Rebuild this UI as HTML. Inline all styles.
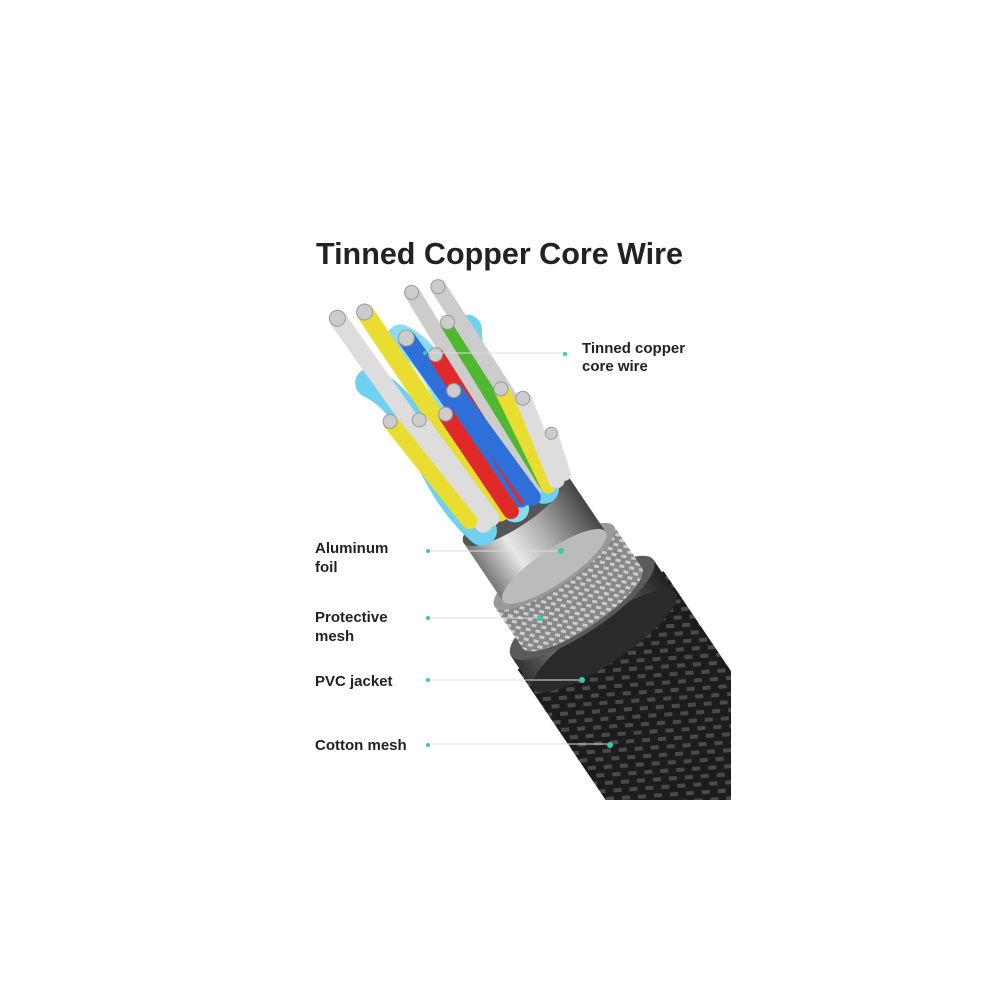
<!DOCTYPE html>
<html><head><meta charset="utf-8"><style>
html,body{margin:0;padding:0;background:#fff;}
svg{display:block}
text{font-family:"Liberation Sans",sans-serif;font-weight:bold;fill:#222}
</style></head><body>
<svg width="1000" height="1000" viewBox="0 0 1000 1000" xmlns="http://www.w3.org/2000/svg">
<defs>
<clipPath id="c"><rect x="0" y="0" width="731" height="800"/></clipPath>
<linearGradient id="foil" x1="0" x2="1"><stop offset="0" stop-color="#777"/><stop offset=".3" stop-color="#e8e8e8"/><stop offset=".6" stop-color="#aaa"/><stop offset="1" stop-color="#444"/></linearGradient>
<linearGradient id="pvc" x1="0" x2="1"><stop offset="0" stop-color="#333"/><stop offset=".35" stop-color="#888"/><stop offset=".7" stop-color="#555"/><stop offset="1" stop-color="#222"/></linearGradient>
<pattern id="braid" width="16" height="16" patternUnits="userSpaceOnUse" patternTransform="rotate(30)"><rect width="16" height="16" fill="#1c1c1c"/><path d="M0 4h8M8 12h8" stroke="#4a4a4a" stroke-width="4"/></pattern>
<pattern id="mesh" width="10" height="10" patternUnits="userSpaceOnUse" patternTransform="rotate(45)"><rect width="10" height="10" fill="#888"/><path d="M0 3h5M5 8h5" stroke="#ccc" stroke-width="3"/></pattern>
</defs>
<text x="316" y="264" font-size="31" fill="#333" textLength="367" lengthAdjust="spacingAndGlyphs">Tinned Copper Core Wire</text>
<g clip-path="url(#c)">
<g transform="translate(585,612) rotate(-34)">
<rect x="-88" y="10" width="176" height="420" fill="url(#braid)"/>
<rect x="-86" y="-5" width="172" height="40" fill="url(#pvc)"/>
<ellipse cx="0" cy="35" rx="86" ry="22" fill="#2a2a2a"/>
<ellipse cx="0" cy="-5" rx="86" ry="24" fill="#5a5a5a"/>
<rect x="-72" y="-55" width="144" height="50" fill="url(#mesh)"/>
<ellipse cx="0" cy="-5" rx="72" ry="20" fill="url(#mesh)"/>
<ellipse cx="0" cy="-55" rx="72" ry="20" fill="#999"/>
<rect x="-62" y="-125" width="124" height="70" fill="url(#foil)"/>
<ellipse cx="0" cy="-55" rx="62" ry="17" fill="#bbb"/>
<ellipse cx="0" cy="-125" rx="62" ry="18" fill="#555"/>
<g stroke-linecap="round" fill="none">
<path d="M-40 -125 C-60 -200,-20 -260,-50 -310" stroke="#6fd0f0" stroke-width="30"/>
<path d="M35 -125 C60 -200,30 -260,60 -300" stroke="#6fd0f0" stroke-width="30"/>
<path d="M0 -125 C-20 -200,30 -280,0 -330" stroke="#8adcf5" stroke-width="28"/>
<path d="M-35 -130 L-41 -380" stroke="#ddd" stroke-width="18"/>
<path d="M-15 -130 L-15 -370" stroke="#e8dd30" stroke-width="18"/>
<path d="M25 -130 L35 -360" stroke="#ccc" stroke-width="16"/>
<path d="M10 -130 L5 -325" stroke="#2f6fd8" stroke-width="18"/>
<path d="M15 -130 L20 -295" stroke="#e02a2a" stroke-width="16"/>
<path d="M40 -130 L48 -315" stroke="#50b830" stroke-width="16"/>
<path d="M55 -130 L60 -350" stroke="#ccc" stroke-width="16"/>
<path d="M-45 -140 L-55 -265" stroke="#e8dd30" stroke-width="16"/>
<path d="M-25 -130 L-30 -250" stroke="#ddd" stroke-width="16"/>
<path d="M-5 -125 L-5 -240" stroke="#e02a2a" stroke-width="16"/>
<path d="M20 -125 L15 -255" stroke="#2f6fd8" stroke-width="18"/>
<path d="M40 -125 L55 -230" stroke="#e8dd30" stroke-width="15"/>
<path d="M50 -125 L68 -210" stroke="#ddd" stroke-width="16"/>
<path d="M60 -125 L72 -165" stroke="#ddd" stroke-width="12"/>
</g>
<g fill="#ccc" stroke="#999" stroke-width="1">
<circle cx="-41" cy="-382" r="8"/><circle cx="-15" cy="-372" r="8"/><circle cx="35" cy="-362" r="7"/><circle cx="5" cy="-327" r="8"/><circle cx="20" cy="-297" r="7"/><circle cx="48" cy="-317" r="7"/><circle cx="60" cy="-352" r="7"/><circle cx="-55" cy="-267" r="7"/><circle cx="-30" cy="-252" r="7"/><circle cx="-5" cy="-242" r="7"/><circle cx="15" cy="-257" r="7"/><circle cx="55" cy="-232" r="7"/><circle cx="68" cy="-212" r="7"/><circle cx="72" cy="-167" r="6"/>
</g>
</g>
</g>
<g stroke="#ddd" stroke-width="1">
<line x1="428" y1="353" x2="565" y2="353"/><line x1="428" y1="551" x2="560" y2="551"/><line x1="428" y1="618" x2="540" y2="618"/><line x1="428" y1="680" x2="582" y2="680"/><line x1="428" y1="744" x2="610" y2="744"/>
</g>
<g fill="#3cc9a8">
<circle cx="425" cy="353" r="2"/><circle cx="565" cy="354" r="2"/>
<circle cx="428" cy="551" r="2"/><circle cx="561" cy="551" r="3"/>
<circle cx="428" cy="618" r="2"/><circle cx="540" cy="618" r="3"/>
<circle cx="428" cy="680" r="2"/><circle cx="582" cy="680" r="3"/>
<circle cx="428" cy="745" r="2"/><circle cx="610" cy="745" r="3"/>
</g>
<g font-size="15">
<text x="582" y="353">Tinned copper</text><text x="582" y="371">core wire</text>
<text x="315" y="553">Aluminum</text><text x="315" y="572">foil</text>
<text x="315" y="622">Protective</text><text x="315" y="641">mesh</text>
<text x="315" y="686">PVC jacket</text>
<text x="315" y="750">Cotton mesh</text>
</g>
</svg>
</body></html>
